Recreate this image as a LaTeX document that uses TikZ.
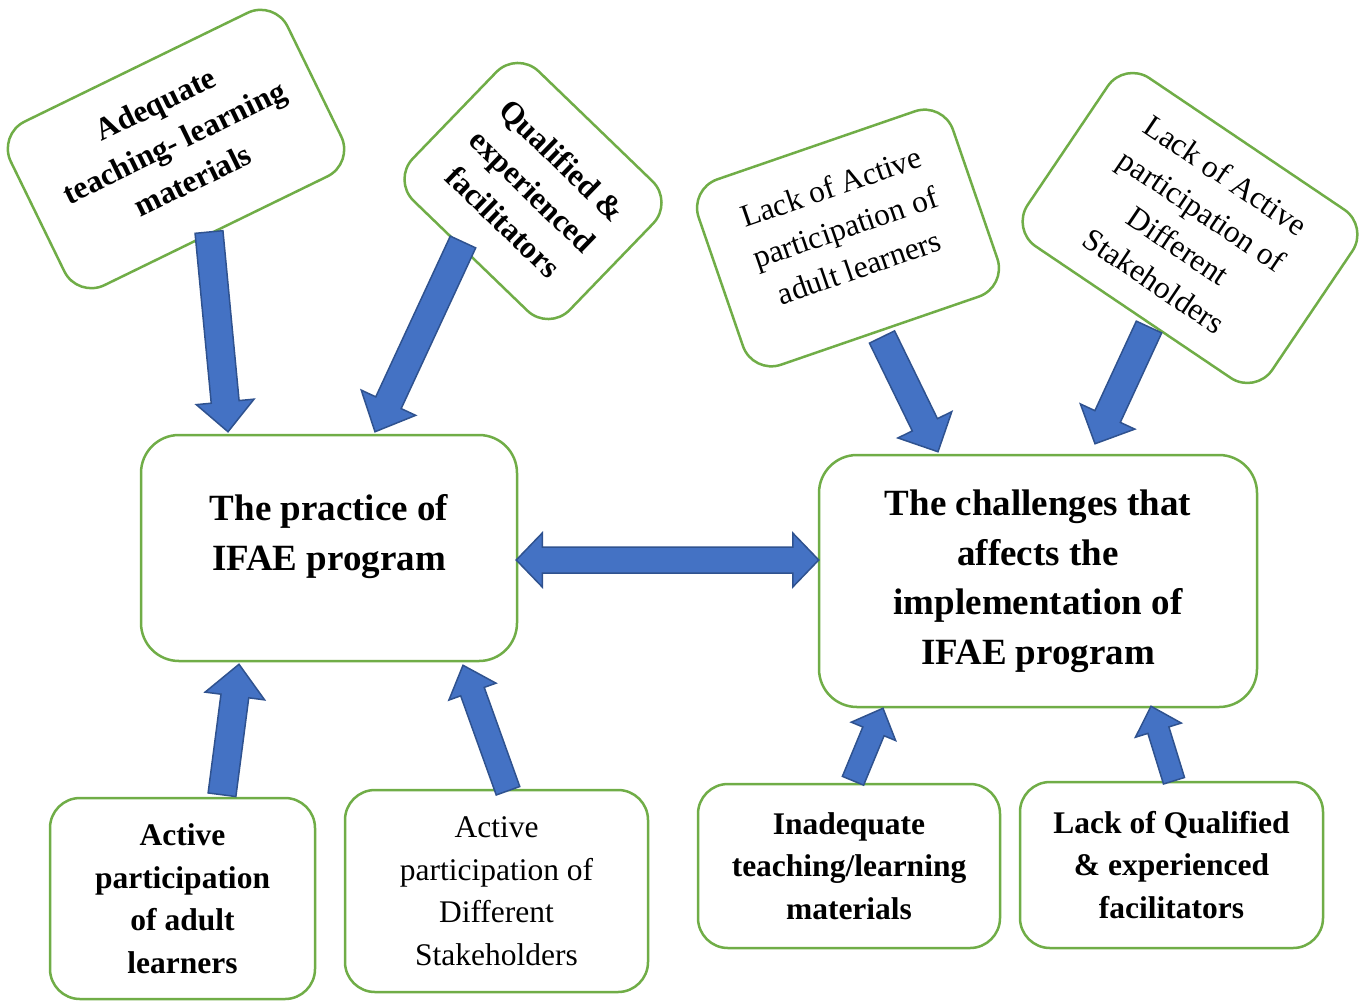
\documentclass[tikz,border=0pt]{standalone}
\usepackage{fontspec}
\setmainfont{Liberation Serif}
\usetikzlibrary{calc,positioning}
\definecolor{boxgreen}{HTML}{70AD47}
\definecolor{arrfill}{HTML}{4472C4}
\definecolor{arrline}{HTML}{2F528F}
\tikzset{
  gbox/.style    = { draw=boxgreen, line width=2.5pt, fill=white, rounded corners=30pt, align=center, inner sep=2pt },
  mainbox/.style = { gbox, rounded corners=38pt },
  smtxt/.style   = { font=\fontsize{31.5}{42.5}\selectfont, align=center },
  bftxt/.style   = { font=\fontsize{31.5}{42.5}\selectfont\bfseries, align=center },
  bigtxt/.style  = { font=\fontsize{37}{50}\selectfont\bfseries, align=center },
  fatarr/.style  = { draw=arrline, fill=arrfill, line width=1.5pt, line join=miter }
}
% tail, tip, half shaft, half head, head length
\newcommand{\fatarrow}[5]{%
  \path ($(#2)!#5!(#1)$) coordinate (hb);
  \draw[fatarr] ($(#1)!#3!90:(#2)$) -- ($(hb)!#3!90:(#2)$) -- ($(hb)!#4!90:(#2)$) -- (#2)
    -- ($(hb)!#4!-90:(#2)$) -- ($(hb)!#3!-90:(#2)$) -- ($(#1)!#3!-90:(#2)$) -- cycle;
}
\begin{document}
\begin{tikzpicture}[x=1pt,y=-1pt]
    \useasboundingbox (0,0) rectangle (1367,1002);
    % tilted boxes on top
    \node[gbox, rotate=26, minimum width=308pt, minimum height=182pt] (adeq) at (176,149) {};
    \node[bftxt, rotate=26] (adeqtxt) at ([shift={(-2,-7)}]adeq.center) {Adequate\\teaching- learning\\materials};
    \node[gbox, bftxt, rotate=-44, minimum width=218pt, minimum height=180pt] (qual) at (533,191) {Qualified \&\\experienced\\facilitators};
    \node[gbox, rotate=19, minimum width=269pt, minimum height=196pt] (lackl) at (848,238) {};
    \node[smtxt, rotate=19] (lackltxt) at ([shift={(-3,-11)}]lackl.center) {Lack of Active\\participation of\\adult learners};
    \node[gbox, smtxt, rotate=-34, minimum width=295pt, minimum height=203pt] (lacks) at (1190,228) {Lack of Active\\participation of\\Different\\Stakeholders};

    % the two main boxes
    \node[mainbox, minimum width=376pt, minimum height=226pt] (prac) at (329,548) {};
    \node[bigtxt] (practxt) at ([yshift=11pt]prac.center) {The practice of\\IFAE program};
    \node[mainbox, bigtxt, font=\fontsize{37}{49.5}\selectfont\bfseries, minimum width=438pt, minimum height=252pt] (chal) at (1038,581) {The challenges that\\affects the\\implementation of\\IFAE program};

    % boxes at the bottom
    \node[gbox, bftxt, minimum width=265pt, minimum height=201pt] (actl) at (182.5,898.5) {Active\\participation\\of adult\\learners};
    \node[gbox, smtxt, minimum width=303pt, minimum height=202pt] (acts) at (496.5,891) {Active\\participation of\\Different\\Stakeholders};
    \node[gbox, bftxt, minimum width=302pt, minimum height=164pt] (inad) at (849,866) {Inadequate\\teaching/learning\\materials};
    \node[gbox, bftxt, minimum width=303pt, minimum height=166pt] (lackq) at (1171.5,865) {Lack of Qualified\\\& experienced\\facilitators};

    \coordinate (a1s) at ([shift={(33,83)}]adeq.center);
    \coordinate (a1e) at ([shift={(-101,-2)}]prac.north);
    \coordinate (a2s) at ([shift={(-70,51)}]qual.center);
    \coordinate (a2e) at ([shift={(46,-2)}]prac.north);
    \coordinate (a3s) at ([shift={(34,99)}]lackl.center);
    \coordinate (a3e) at ([shift={(-100,-2)}]chal.north);
    \coordinate (a4s) at ([shift={(-41,99)}]lacks.center);
    \coordinate (a4e) at ([shift={(57,-10)}]chal.north);
    \coordinate (a5s) at ([shift={(39.5,-2)}]actl.north);
    \coordinate (a5e) at ([shift={(-90,2)}]prac.south);
    \coordinate (a6s) at ([shift={(11.5,2)}]acts.north);
    \coordinate (a6e) at ([shift={(134,3)}]prac.south);
    \coordinate (a7s) at ([shift={(4,-2)}]inad.north);
    \coordinate (a7e) at ([shift={(-155,0)}]chal.south);
    \coordinate (a8s) at ([shift={(2.5,0)}]lackq.north);
    \coordinate (a8e) at ([shift={(113,-2)}]chal.south);

    \fatarrow{a1s}{a1e}{14pt}{29pt}{30pt}
    \fatarrow{a2s}{a2e}{14pt}{30pt}{32pt}
    \fatarrow{a3s}{a3e}{14pt}{30pt}{30pt}
    \fatarrow{a4s}{a4e}{14pt}{30pt}{30pt}
    \fatarrow{a5s}{a5e}{14pt}{30pt}{32pt}
    \fatarrow{a6s}{a6e}{12.5pt}{25pt}{28pt}
    \fatarrow{a7s}{a7e}{11.5pt}{24pt}{25pt}
    \fatarrow{a8s}{a8e}{11pt}{24pt}{25pt}

    % double arrow between the main boxes
    \coordinate (dl) at ([shift={(-2,12)}]prac.east);
    \coordinate (dr) at ([shift={(1,-21)}]chal.west);
    \path ($(dl)!26pt!(dr)$) coordinate (hl) ($(dr)!26pt!(dl)$) coordinate (hr);
    \draw[fatarr] (dl) -- ($(hl)!27pt!90:(dr)$) -- ($(hl)!13pt!90:(dr)$) -- ($(hr)!13pt!-90:(dl)$)
      -- ($(hr)!27pt!-90:(dl)$) -- (dr) -- ($(hr)!27pt!90:(dl)$) -- ($(hr)!13pt!90:(dl)$)
      -- ($(hl)!13pt!-90:(dr)$) -- ($(hl)!27pt!-90:(dr)$) -- cycle;
\end{tikzpicture}
\end{document}
